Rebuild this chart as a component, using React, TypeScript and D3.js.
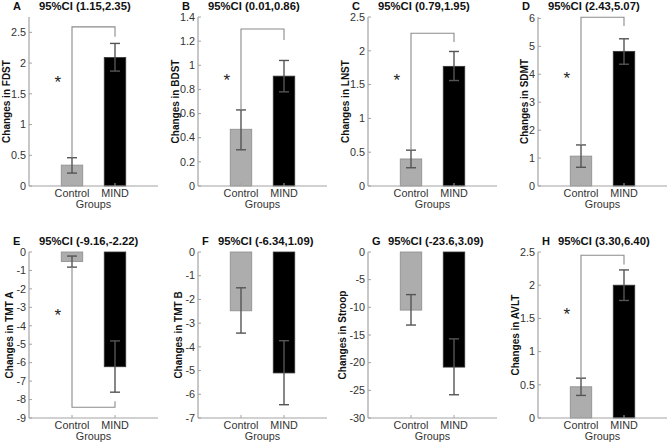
import React from "react";
import * as d3 from "d3";

// panel labels and CI text
const letters = ["A", "B", "C", "D", "E", "F", "G", "H"];
const ciLabels = [
  "95%CI (1.15,2.35)",
  "95%CI (0.01,0.86)",
  "95%CI (0.79,1.95)",
  "95%CI (2.43,5.07)",
  "95%CI (-9.16,-2.22)",
  "95%CI (-6.34,1.09)",
  "95%CI (-23.6,3.09)",
  "95%CI (3.30,6.40)",
];
const measures = ["FDST", "BDST", "LNST", "SDMT", "TMT A", "TMT B", "Stroop", "AVLT"];
const groups = ["Control", "MIND"];

// means and error bar ends
const controlMean = [0.34, 0.47, 0.4, 1.07, -0.52, -2.48, -10.5, 0.47];
const controlLow = [0.21, 0.3, 0.27, 0.67, -0.82, -3.42, -13.2, 0.34];
const controlHigh = [0.46, 0.63, 0.53, 1.47, -0.22, -1.51, -7.7, 0.6];
const mindMean = [2.09, 0.91, 1.77, 4.82, -6.22, -5.1, -20.8, 2.0];
const mindLow = [1.87, 0.78, 1.56, 4.36, -7.6, -6.44, -25.8, 1.77];
const mindHigh = [2.32, 1.04, 1.99, 5.27, -4.82, -3.74, -15.7, 2.23];

// axis limits and ticks
const yDomains: [number, number][] = [
  [0, 2.75], [0, 1.4], [0, 2.5], [0, 6.05],
  [-9, 0], [-7, 0], [-30, 0], [0, 2.5],
];
const yTicks = [
  [0, 0.5, 1, 1.5, 2, 2.5],
  [0, 0.2, 0.4, 0.6, 0.8, 1, 1.2, 1.4],
  [0, 0.5, 1, 1.5, 2, 2.5],
  [0, 1, 2, 3, 4, 5, 6],
  [-9, -8, -7, -6, -5, -4, -3, -2, -1, 0],
  [-7, -6, -5, -4, -3, -2, -1, 0],
  [-30, -25, -20, -15, -10, -5, 0],
  [0, 0.5, 1, 1.5, 2, 2.5],
];

// significance bracket (level of the bar, end of the right leg) and star
const bracketLevel = [2.59, 1.3, 2.26, 6.04, -8.42, NaN, NaN, 2.45];
const bracketEnd = [2.43, 1.21, 2.13, 5.73, -8.09, NaN, NaN, 2.31];
const starValue = [1.72, 0.89, 1.59, 3.91, -3.35, NaN, NaN, 1.59];

const W = 668;
const H = 445;
const font = "'Liberation Sans', Arial, Helvetica, sans-serif";
const colLeft = [29, 198, 368, 538];
const plotW = 129;
const rows = [
  { top: 17, bottom: 186 },
  { top: 252, bottom: 418 },
];
const axisColor = "#a3a3a3";
const errColor = "#555";

const fmt = (v: number) => String(+v.toFixed(2));
const approxWidth = (s: string) =>
  s.split("").reduce((w, c) => w + (c === "." ? 2.9 : c === "-" ? 6.1 : 5.84), 0);

const Panel: React.FC<{ i: number }> = ({ i }) => {
  const col = i % 4;
  const rowIdx = Math.floor(i / 4);
  const row = rows[rowIdx];
  const x0 = colLeft[col];
  const x = d3.scaleLinear().domain([0, 3]).range([x0, x0 + plotW]);
  const [d0, d1] = yDomains[i];
  const y = d3.scaleLinear().domain([d0, d1]).range([row.bottom, row.top]);
  const barHalf = 0.25;

  const bars = [
    { pos: 1, mean: controlMean[i], lo: controlLow[i], hi: controlHigh[i], fill: "#adadad", stroke: "#8c8c8c" },
    { pos: 2, mean: mindMean[i], lo: mindLow[i], hi: mindHigh[i], fill: "#000", stroke: "#333" },
  ];

  const maxTickW = d3.max(yTicks[i], (t) => approxWidth(fmt(t))) || 10;
  const labelX = x0 - maxTickW - 4.5;
  const midY = (row.top + row.bottom) / 2;
  const capHalf = 5;

  const hasBracket = !isNaN(bracketLevel[i]);
  const startVal = bracketLevel[i] > 0 ? controlHigh[i] : controlLow[i];

  // title placement: first column and the top row sit further left
  const leftStyle = rowIdx === 0 || col === 0;
  const letterX = leftStyle ? x0 - 16 : x0 + 4;
  const ciX = leftStyle ? x0 + 10 : x0 + 20;
  const titleY = row.top - 7;

  return (
    <g>
      {/* bars */}
      {bars.map((b) => (
        <rect
          key={b.pos}
          x={x(b.pos - barHalf)}
          width={x(b.pos + barHalf) - x(b.pos - barHalf)}
          y={Math.min(y(0), y(b.mean))}
          height={Math.abs(y(b.mean) - y(0))}
          fill={b.fill}
          stroke={b.stroke}
          strokeWidth={0.8}
        />
      ))}
      {/* error bars */}
      {bars.map((b) => (
        <g key={"e" + b.pos} stroke={errColor} strokeWidth={1.4} fill="none">
          <line x1={x(b.pos)} x2={x(b.pos)} y1={y(b.lo)} y2={y(b.hi)} />
          <line x1={x(b.pos) - capHalf} x2={x(b.pos) + capHalf} y1={y(b.lo)} y2={y(b.lo)} />
          <line x1={x(b.pos) - capHalf} x2={x(b.pos) + capHalf} y1={y(b.hi)} y2={y(b.hi)} />
        </g>
      ))}
      {/* axes */}
      <line x1={x0} x2={x0} y1={row.top} y2={row.bottom} stroke={axisColor} strokeWidth={1.2} />
      <line x1={x0} x2={x0 + plotW} y1={y(d0)} y2={y(d0)} stroke={axisColor} strokeWidth={1.2} />
      {yTicks[i].map((t) => (
        <g key={t}>
          <line x1={x0} x2={x0 + 3} y1={y(t)} y2={y(t)} stroke={axisColor} strokeWidth={1} />
          <text
            x={x0 - 3}
            y={y(t)}
            dy="0.35em"
            textAnchor="end"
            fontSize={10.8}
            fill="#333"
            fontFamily={font}
          >
            {fmt(t)}
          </text>
        </g>
      ))}
      {groups.map((g, k) => (
        <g key={g}>
          <line x1={x(k + 1)} x2={x(k + 1)} y1={y(d0)} y2={y(d0) - 3} stroke={axisColor} strokeWidth={1} />
          <text
            x={x(k + 1)}
            y={y(d0) + 10.5}
            textAnchor="middle"
            fontSize={10.8}
            fill="#333"
            fontFamily={font}
          >
            {g}
          </text>
        </g>
      ))}
      <text x={x(1.5)} y={y(d0) + 21.5} textAnchor="middle" fontSize={10.8} fill="#333" fontFamily={font}>
        Groups
      </text>
      {/* y label */}
      <text
        transform={`translate(${labelX},${midY}) rotate(-90)`}
        textAnchor="middle"
        fontSize={10}
        fontWeight="bold"
        fill="#111"
        fontFamily={font}
      >
        {`Changes in ${measures[i]}`}
      </text>
      {/* title */}
      <text x={letterX} y={titleY} fontSize={11} fontWeight="bold" fill="#111" fontFamily={font}>
        {letters[i]}
      </text>
      <text x={ciX} y={titleY} fontSize={11.3} fontWeight="bold" fill="#111" fontFamily={font}>
        {ciLabels[i]}
      </text>
      {/* significance bracket */}
      {hasBracket && (
        <>
          <path
            d={`M${x(1)},${y(startVal)}V${y(bracketLevel[i])}H${x(2)}V${y(bracketEnd[i])}`}
            fill="none"
            stroke="#8a8a8a"
            strokeWidth={1.1}
          />
          <text
            x={x(0.67)}
            y={y(starValue[i]) + 7.5}
            textAnchor="middle"
            fontSize={17}
            fill="#222"
            fontFamily={font}
          >
            *
          </text>
        </>
      )}
    </g>
  );
};

export default function App() {
  return (
    <svg
      width={W}
      height={H}
      style={{ position: "absolute", left: 0, top: 0, background: "#fff" }}
    >
      <rect width={W} height={H} fill="#fff" />
      {letters.map((_, i) => (
        <Panel key={i} i={i} />
      ))}
    </svg>
  );
}
